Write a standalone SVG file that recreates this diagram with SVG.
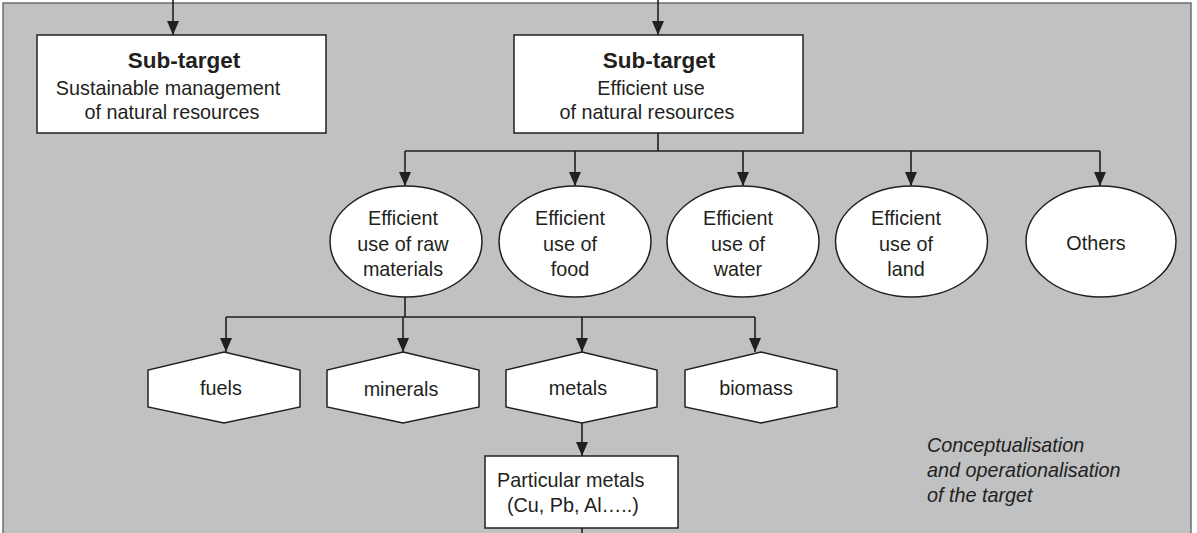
<svg xmlns="http://www.w3.org/2000/svg" width="1197" height="533" viewBox="0 0 1197 533">
<defs>
<marker id="ah" viewBox="0 0 14 12" refX="14" refY="6" markerWidth="14" markerHeight="12" markerUnits="userSpaceOnUse" orient="auto">
<path d="M0,0 L14,6 L0,12 Z" fill="#231f20"/>
</marker>
<style>
.n{fill:#fff;stroke:#231f20;stroke-width:1.5}
.c{fill:none;stroke:#231f20;stroke-width:1.6}
text{font-family:"Liberation Sans",Arial,sans-serif;font-size:19.8px;fill:#231f20;text-anchor:middle}
.b{font-weight:bold;font-size:22.5px}
.i{font-style:italic;text-anchor:start;font-size:19.8px}
.l{text-anchor:start}
</style>
</defs>
<rect x="3" y="3" width="1188" height="540" fill="#c0c1c3" stroke="#6d6e70" stroke-width="1.5"/>
<g id="connectors">
<path class="c" d="M173,0 V35" marker-end="url(#ah)"/>
<path class="c" d="M658,0 V35" marker-end="url(#ah)"/>
<path class="c" d="M658,133 V151 M405,151 H1100"/>
<path class="c" d="M405,151 V186" marker-end="url(#ah)"/>
<path class="c" d="M575,151 V186" marker-end="url(#ah)"/>
<path class="c" d="M743,151 V186" marker-end="url(#ah)"/>
<path class="c" d="M911,151 V186" marker-end="url(#ah)"/>
<path class="c" d="M1100,151 V186" marker-end="url(#ah)"/>
<path class="c" d="M405,297 V317 M226,317 H755"/>
<path class="c" d="M226,317 V352" marker-end="url(#ah)"/>
<path class="c" d="M403,317 V352" marker-end="url(#ah)"/>
<path class="c" d="M582,317 V352" marker-end="url(#ah)"/>
<path class="c" d="M755,317 V352" marker-end="url(#ah)"/>
<path class="c" d="M582,423 V456" marker-end="url(#ah)"/>
<path class="c" d="M582,528 V533"/>
</g>
<g id="subtarget-sustainable">
<rect class="n" x="37" y="35" width="289" height="98"/>
<text class="b" x="184" y="68">Sub-target</text>
<text x="168" y="95">Sustainable management</text>
<text x="172" y="119">of natural resources</text>
</g>
<g id="subtarget-efficient">
<rect class="n" x="514" y="35" width="289" height="98"/>
<text class="b" x="659" y="68">Sub-target</text>
<text x="651" y="95">Efficient use</text>
<text x="647" y="119">of natural resources</text>
</g>
<g id="raw-materials">
<ellipse class="n" cx="406" cy="241.5" rx="76" ry="55.5"/>
<text x="403" y="225">Efficient</text>
<text x="403" y="251">use of raw</text>
<text x="403" y="276">materials</text>
</g>
<g id="food">
<ellipse class="n" cx="575" cy="241.5" rx="76" ry="55.5"/>
<text x="570" y="225">Efficient</text>
<text x="570" y="251">use of</text>
<text x="570" y="276">food</text>
</g>
<g id="water">
<ellipse class="n" cx="743" cy="241.5" rx="76" ry="55.5"/>
<text x="738" y="225">Efficient</text>
<text x="738" y="251">use of</text>
<text x="738" y="276">water</text>
</g>
<g id="land">
<ellipse class="n" cx="911.5" cy="241.5" rx="76" ry="55.5"/>
<text x="906" y="225">Efficient</text>
<text x="906" y="251">use of</text>
<text x="906" y="276">land</text>
</g>
<g id="others">
<ellipse class="n" cx="1101" cy="241.5" rx="75" ry="55.5"/>
<text x="1096" y="250">Others</text>
</g>
<g id="fuels">
<polygon class="n" points="224,352 300,370 300,407 224,423 148,407 148,370"/>
<text x="221" y="395">fuels</text>
</g>
<g id="minerals">
<polygon class="n" points="403,352 479,370 479,407 403,423 327,407 327,370"/>
<text x="401" y="396">minerals</text>
</g>
<g id="metals">
<polygon class="n" points="582,352 657,370 657,407 582,423 506,407 506,370"/>
<text x="578" y="395">metals</text>
</g>
<g id="biomass">
<polygon class="n" points="761,352 837,370 837,407 761,423 685,407 685,370"/>
<text x="756" y="395">biomass</text>
</g>
<g id="particular-metals">
<rect class="n" x="485" y="456" width="193" height="72"/>
<text class="l" x="497" y="487">Particular metals</text>
<text class="l" x="507" y="512">(Cu, Pb, Al…..)</text>
</g>
<g id="caption">
<text class="i" x="927" y="452">Conceptualisation</text>
<text class="i" x="927" y="477">and operationalisation</text>
<text class="i" x="927" y="502">of the target</text>
</g>
</svg>
